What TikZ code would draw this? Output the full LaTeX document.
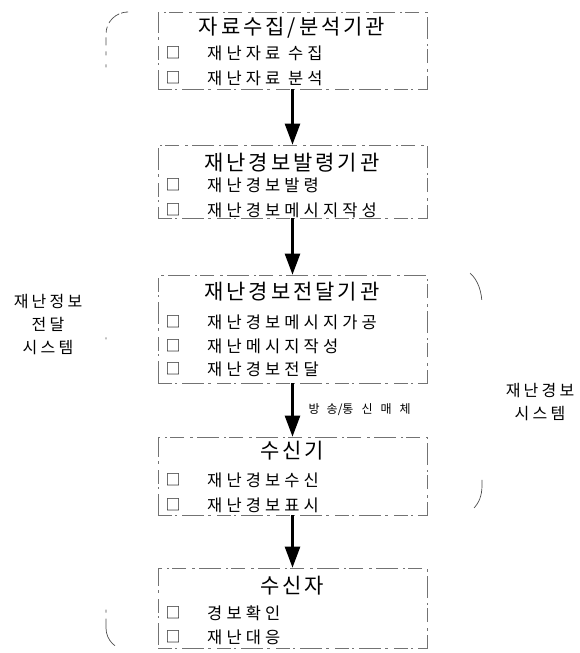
\documentclass[tikz,border=0pt]{standalone}
\usepackage{fontspec}
\setmainfont{Noto Sans CJK KR}
\newfontfamily\titlefont[LetterSpace=14]{Noto Sans CJK KR}
\newfontfamily\itemfont[LetterSpace=25]{Noto Sans CJK KR}
\newfontfamily\sidefont[LetterSpace=20]{Noto Sans CJK KR}
\usetikzlibrary{arrows.meta}
\tikzset{
  box/.style={draw=black!55, line width=0.6pt, minimum width=269pt,
    dash pattern=on 14pt off 3pt on 2pt off 5pt on 22pt off 4pt on 3pt off 6pt},
  ttl/.style={font=\titlefont\fontsize{21}{22}\selectfont, anchor=center, inner sep=0pt},
  itm/.style={font=\itemfont\fontsize{16.5}{17}\selectfont, anchor=west, inner sep=0pt},
  chk/.style={font=\fontsize{15}{16}\selectfont, anchor=center, inner sep=0pt},
  side/.style={font=\sidefont\fontsize{16}{23}\selectfont, align=center, inner sep=0pt},
  flow/.style={line width=2.4pt, -{Triangle[width=15pt,length=21pt]}},
  brk/.style={draw=black!70, line width=0.7pt}
}
\begin{document}
\begin{tikzpicture}[x=1pt,y=-1pt]
\useasboundingbox (0,0) rectangle (579,653);
% boxes
\node[box, minimum height=77pt] (b1) at (292.5,50.5) {};
\node[box, minimum height=73pt] (b2) at (292.5,181.5) {};
\node[box, minimum height=108pt] (b3) at (292.5,329) {};
\node[box, minimum height=78pt] (b4) at (292.5,476) {};
\node[box, minimum height=80pt] (b5) at (292.5,608) {};
% box 1
\node[ttl] (t1) at (292,28) {자료수집/분석기관};
\node[chk] (c11) at (173,53) {□};
\node[itm] (i11) at (207,53) {재난자료 수집};
\node[chk] (c12) at (173,78) {□};
\node[itm] (i12) at (207,78) {재난자료 분석};
% box 2
\node[ttl] (t2) at (292,163) {재난경보발령기관};
\node[chk] (c21) at (173,185) {□};
\node[itm] (i21) at (207,185) {재난경보발령};
\node[chk] (c22) at (173,210) {□};
\node[itm] (i22) at (207,210) {재난경보메시지작성};
% box 3
\node[ttl] (t3) at (292,292) {재난경보전달기관};
\node[chk] (c31) at (173,322) {□};
\node[itm] (i31) at (207,322) {재난경보메시지가공};
\node[chk] (c32) at (173,346) {□};
\node[itm] (i32) at (207,346) {재난메시지작성};
\node[chk] (c33) at (173,369) {□};
\node[itm] (i33) at (207,369) {재난경보전달};
% box 4
\node[ttl] (t4) at (292,451) {수신기};
\node[chk] (c41) at (173,480) {□};
\node[itm] (i41) at (207,480) {재난경보수신};
\node[chk] (c42) at (173,505) {□};
\node[itm] (i42) at (207,505) {재난경보표시};
% box 5
\node[ttl] (t5) at (292,586) {수신자};
\node[chk] (c51) at (173,613) {□};
\node[itm] (i51) at (207,613) {경보확인};
\node[chk] (c52) at (173,637) {□};
\node[itm] (i52) at (207,637) {재난대응};
% arrows
\draw[flow] (b1.south) -- (b2.north);
\draw[flow] (b2.south) -- (b3.north);
\draw[flow] (b3.south) -- node[right, xshift=15pt, font=\fontsize{12}{13}\selectfont, inner sep=0pt] (lab) {방\hspace{7pt}송/통\hspace{8pt}신\hspace{8pt}매\hspace{8pt}체} (b4.north);
\draw[flow] (b4.south) -- (b5.north);
% side labels
\node[side] (lt) at (48,325) {재난정보\\전달\\시스템};
\node[side] (rt) at (540,402) {재난경보\\시스템};
% brackets
\draw[brk, rounded corners=22pt,
  dash pattern=on 9pt off 2pt on 14pt off 4pt on 6pt off 5pt on 8pt off 6pt on 4pt off 9pt on 3pt off 270pt on 2pt off 270pt on 3pt off 6pt on 30pt off 20pt]
  (126,12) -- (106,12) -- (106,650) -- (126,650);
\draw[brk, dash pattern=on 30pt off 180pt on 30pt]
  (470,273) .. controls (478,280) and (482,292) .. (482,305) -- (482,485) .. controls (482,496) and (479,503) .. (473,509);
\end{tikzpicture}
\end{document}
